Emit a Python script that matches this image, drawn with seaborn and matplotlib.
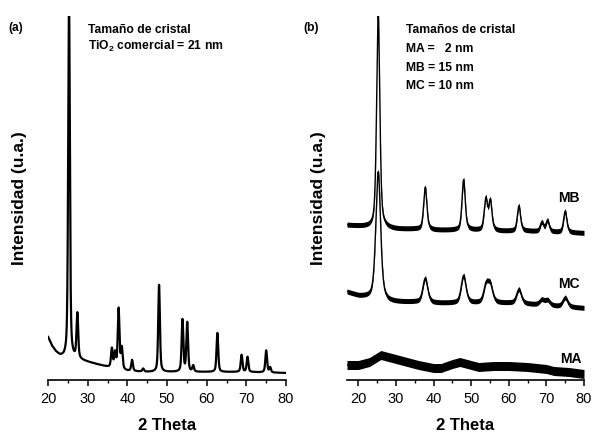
import numpy as np
import pandas as pd
import matplotlib
matplotlib.use('Agg')
import matplotlib.pyplot as plt
import seaborn as sns

# heights are in plot units above the x axis

# (a) commercial TiO2
com_bg_x = [20, 21, 22, 23, 24, 26, 28, 30, 32, 34, 36, 40, 45, 50, 60, 70, 80]
com_bg_y = [43, 34, 28, 24, 22, 21, 20, 18, 16, 14, 12, 9, 8, 8, 8, 8, 7]
com_peak_pos = [25.3, 27.4, 36.1, 36.9, 37.8, 38.6, 41.2, 44.0, 48.0,
                53.9, 55.1, 56.6, 62.7, 68.8, 70.3, 75.0, 76.0]
com_peak_amp = [360, 45, 19, 15, 60, 21, 11, 3, 87, 52, 49, 6, 39, 17, 15, 22, 5]
com_fwhm = 0.5

# (b) samples MB, MC, MA
mb_bg_x = [17, 20, 25, 30, 35, 40, 45, 50, 57, 60, 65, 72, 80]
mb_bg_y = [155, 154, 152, 151, 151, 150, 150, 150, 149, 149, 149, 148, 147]
mb_peak_pos = [25.3, 37.8, 48.0, 53.9, 55.1, 62.7, 68.8, 70.3, 75.0]
mb_peak_amp = [215, 42, 50, 31, 29, 25, 9, 11, 21]
mb_fwhm = 1.0

mc_bg_x = [17, 20, 23, 28, 35, 40, 45, 50, 57, 60, 65, 72, 80]
mc_bg_y = [88, 84, 82, 78, 78, 77, 77, 77, 77, 77, 76, 74, 72]
mc_peak_pos = [25.3, 37.8, 48.0, 54.0, 55.1, 62.7, 68.8, 70.3, 75.0]
mc_peak_amp = [128, 24, 27, 17, 16, 14, 5, 5, 9]
mc_fwhm = 1.5

ma_bg_x = [17, 20, 23, 26, 30, 33, 36, 40, 42, 45, 47, 50, 52, 56, 60, 65, 70, 72, 76, 80]
ma_bg_y = [15, 15, 18, 25, 21, 18, 15, 12, 12, 16, 18, 15, 13, 14, 14, 13, 11, 9, 8, 6]

# noise band half-height per series
noise = {'MB': 2.5, 'MC': 2.5, 'MA': 4.5}


def pattern(x, bg_x, bg_y, pos=(), amp=(), fwhm=1.0):
    y = np.interp(x, bg_x, bg_y)
    hw = fwhm / 2
    for p, a in zip(pos, amp):
        lor = 1 / (1 + ((x - p) / hw) ** 2)
        gau = np.exp(-np.log(2) * ((x - p) / hw) ** 2)
        y = y + a * (0.5 * lor + 0.5 * gau)
    return y


x_a = np.arange(20, 80.001, 0.01)
x_b = np.arange(17, 80.001, 0.01)

df_a = pd.DataFrame({'two_theta': x_a,
                     'intensity': pattern(x_a, com_bg_x, com_bg_y, com_peak_pos, com_peak_amp, com_fwhm)})
df_b = pd.concat([
    pd.DataFrame({'two_theta': x_b, 'sample': 'MB',
                  'intensity': pattern(x_b, mb_bg_x, mb_bg_y, mb_peak_pos, mb_peak_amp, mb_fwhm)}),
    pd.DataFrame({'two_theta': x_b, 'sample': 'MC',
                  'intensity': pattern(x_b, mc_bg_x, mc_bg_y, mc_peak_pos, mc_peak_amp, mc_fwhm)}),
    pd.DataFrame({'two_theta': x_b, 'sample': 'MA',
                  'intensity': pattern(x_b, ma_bg_x, ma_bg_y)}),
])

sns.set_style('ticks')
plt.rcParams['font.family'] = ['Liberation Sans', 'DejaVu Sans']
plt.rcParams['mathtext.fontset'] = 'custom'
plt.rcParams['mathtext.bf'] = 'Liberation Sans:bold'
plt.rcParams['mathtext.rm'] = 'Liberation Sans:bold'
plt.rcParams['text.color'] = 'black'
plt.rcParams['axes.labelcolor'] = 'black'
plt.rcParams['xtick.color'] = 'black'
plt.rcParams['axes.edgecolor'] = 'black'

W, H = 592, 433
fig = plt.figure(figsize=(W / 100, H / 100), dpi=100)
ax_a = fig.add_axes([48 / W, 53 / H, 238 / W, 364 / H])
ax_b = fig.add_axes([347 / W, 53 / H, 237 / W, 364 / H])


def fpos(px, py):
    return px / W, 1 - py / H


sns.lineplot(data=df_a, x='two_theta', y='intensity', ax=ax_a, color='black',
             lw=1.6, estimator=None, sort=False)

for name, grp in df_b.groupby('sample', sort=False):
    ax_b.fill_between(grp['two_theta'], grp['intensity'] - noise[name],
                      grp['intensity'] + noise[name], color='black', lw=0)
    sns.lineplot(data=grp, x='two_theta', y='intensity', ax=ax_b, color='black',
                 lw=1.0, estimator=None, sort=False)

for ax, xmin in [(ax_a, 20), (ax_b, 17)]:
    ax.set_xlim(xmin, 80)
    ax.set_ylim(0, 364)
    for s in ['left', 'right', 'top']:
        ax.spines[s].set_visible(False)
    ax.spines['bottom'].set_linewidth(1.2)
    ax.set_yticks([])
    ax.set_xticks(range(20, 81, 10))
    ax.set_xticks(range(25, 80, 10), minor=True)
    ax.tick_params(axis='x', which='major', direction='out', length=4.5, width=1.1,
                   labelsize=10.5, pad=4, colors='black')
    ax.tick_params(axis='x', which='minor', direction='out', length=2.5, width=1.0,
                   colors='black')
    ax.set_xlabel('2 Theta', fontsize=12, fontweight='bold', labelpad=9)
    ax.set_ylabel('Intensidad (u.a.)', fontsize=12.5, fontweight='bold')
    ax.patch.set_alpha(0)

ax_a.yaxis.set_label_coords(-0.09, 0.5)
ax_b.yaxis.set_label_coords(-0.088, 0.5)

fs = 8.7
fig.text(*fpos(8, 22), '(a)', fontsize=fs, fontweight='bold', va='top')
fig.text(*fpos(88, 33), 'Tamaño de cristal', fontsize=fs, fontweight='bold', va='baseline')
fig.text(*fpos(88, 50), r'TiO$_\mathbf{2}$ comercial = 21 nm', fontsize=fs,
         fontweight='bold', va='baseline')

fig.text(*fpos(303, 22), '(b)', fontsize=fs, fontweight='bold', va='top')
fig.text(*fpos(406, 33), 'Tamaños de cristal', fontsize=fs, fontweight='bold', va='baseline')
fig.text(*fpos(406, 52), 'MA =   2 nm', fontsize=fs, fontweight='bold', va='baseline')
fig.text(*fpos(406, 71), 'MB = 15 nm', fontsize=fs, fontweight='bold', va='baseline')
fig.text(*fpos(406, 89), 'MC = 10 nm', fontsize=fs, fontweight='bold', va='baseline')

fig.text(*fpos(558, 202), 'MB', fontsize=10, fontweight='bold', va='baseline')
fig.text(*fpos(558, 288), 'MC', fontsize=10, fontweight='bold', va='baseline')
fig.text(*fpos(560, 363), 'MA', fontsize=10, fontweight='bold', va='baseline')

fig.savefig('out.png', dpi=100)
